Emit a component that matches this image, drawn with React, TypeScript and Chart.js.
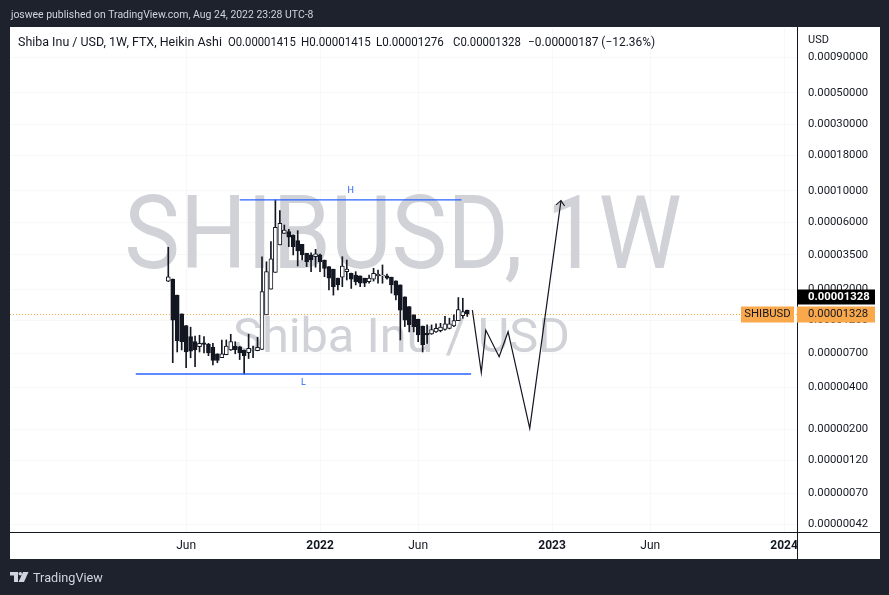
import React, { useEffect, useRef } from 'react';
import { Chart, registerables } from 'chart.js';

Chart.register(...registerables);

// ---------- data (prices in micro-USD, i.e. x 1e-6) ----------
const UNIT = 1e-6;
const CANDLE_START = '2021-05-10'; // first weekly Heikin Ashi bar
const HA_OPEN = [22.8, 23.6, 18.1, 13.3, 11.0, 9.16, 8.43, 7.76, 8.29, 8.07, 7.68, 6.91, 6.48, 6.80, 7.36, 7.85, 7.76, 7.36, 7.05, 7.34, 7.26, 7.44, 13.1, 20.0, 26.3, 41.2, 49.9, 51.3, 48.6, 44.3, 41.7, 36.0, 35.0, 34.0, 35.0, 32.2, 28.9, 27.7, 23.9, 24.3, 26.6, 25.9, 25.2, 24.8, 23.9, 22.6, 23.5, 24.8, 24.8, 24.8, 24.3, 22.9, 21.4, 17.6, 15.0, 13.1, 12.2, 10.9, 9.68, 9.57, 9.9, 10.1, 10.3, 10.5, 10.9, 11.9, 12.9, 14.15];
const HA_HIGH = [39.7, 23.6, 18.1, 13.3, 11.0, 10.7, 9.26, 9.37, 9.16, 8.2, 8.21, 6.91, 8.67, 8.67, 9.52, 8.43, 7.8, 7.36, 9.52, 7.85, 9.07, 34.0, 31.3, 43.5, 86.3, 72.4, 57.2, 53.3, 48.6, 52.1, 41.7, 36.0, 36.3, 38.4, 35.5, 32.2, 28.9, 27.7, 23.9, 34.0, 32.2, 26.0, 26.6, 24.8, 23.9, 25.2, 28.1, 27.3, 29.7, 25.6, 24.3, 22.9, 21.4, 17.6, 15.0, 13.1, 12.2, 10.9, 11.1, 11.1, 11.3, 11.4, 12.8, 12.4, 13.1, 17.4, 17.2, 14.15];
const HA_LOW = [22.6, 5.97, 7.12, 7.36, 5.5, 6.48, 5.59, 7.12, 7.0, 6.7, 5.75, 5.97, 6.48, 6.80, 7.3, 6.91, 6.29, 4.96, 6.39, 6.48, 7.26, 7.44, 13.1, 20.0, 26.3, 41.2, 49.9, 40.1, 35.0, 29.2, 32.2, 28.9, 26.6, 28.6, 26.6, 24.5, 19.7, 18.1, 19.7, 20.8, 23.2, 20.2, 21.4, 20.8, 20.8, 22.0, 22.8, 22.0, 22.0, 23.5, 18.7, 16.7, 8.67, 10.8, 9.9, 9.9, 8.43, 7.12, 8.21, 9.5, 9.8, 9.9, 10.2, 10.4, 10.8, 11.9, 12.4, 12.76];
const HA_CLOSE = [24.4, 12.0, 8.56, 8.43, 7.12, 7.21, 7.36, 8.21, 8.07, 7.0, 6.19, 6.19, 6.91, 7.85, 8.43, 7.40, 7.0, 6.70, 7.55, 7.38, 7.68, 19.2, 26.6, 32.8, 55.1, 58.9, 52.7, 46.8, 40.1, 37.4, 35.0, 31.3, 32.2, 35.6, 31.3, 28.1, 23.9, 20.8, 21.4, 29.2, 27.7, 23.5, 22.6, 22.0, 22.0, 23.9, 25.9, 25.6, 25.2, 23.9, 21.4, 18.1, 14.15, 12.0, 11.1, 10.8, 9.41, 7.98, 9.41, 10.3, 10.5, 10.7, 11.3, 11.3, 11.9, 14.3, 13.8, 13.28];

// drawn projection path
const PROJ_DATES = ['2022-08-30', '2022-09-13', '2022-09-20', '2022-10-11', '2022-10-25', '2022-11-28', '2023-01-16'];
const PROJ_VALUES = [14.15, 5.07, 10.2, 6.59, 9.93, 2.03, 85.3];

// horizontal levels
const H_DATES = ['2021-08-30', '2022-08-13'];
const H_VALUE = 86.3;
const L_DATES = ['2021-03-20', '2022-08-28'];
const L_VALUE = 4.96;

// axes
const X_TICK_DATES = ['2021-06-07', '2022-01-03', '2022-06-06', '2023-01-02', '2023-06-05', '2024-01-01'];
const X_TICK_LABELS = ['Jun', '2022', 'Jun', '2023', 'Jun', '2024'];
const Y_TICKS = [0.0009, 0.0005, 0.0003, 0.00018, 0.0001, 0.00006, 0.000035, 0.00002, 0.000012, 0.000007, 0.000004, 0.000002, 0.0000012, 0.0000007, 0.00000042];
const X_MIN_DAY = -119.3;
const X_MAX_DAY = 1116.8;
const Y_MIN = 3.71e-7;
const Y_MAX = 1.451e-3;

const TITLE = 'joswee published on TradingView.com, Aug 24, 2022 23:28 UTC-8';
const HEADER_SEGMENTS = [
  'Shiba Inu / USD, 1W, FTX, Heikin Ashi',
  'O0.00001415',
  'H0.00001415',
  'L0.00001276',
  'C0.00001328',
  '\u22120.00000187 (\u221212.36%)',
];
const WATERMARK_1 = 'SHIBUSD, 1W';
const WATERMARK_2 = 'Shiba Inu / USD';

// ---------- helpers ----------
const EPOCH = Date.UTC(2021, 0, 1);
const dayOf = (iso: string) => (Date.parse(iso + 'T00:00:00Z') - EPOCH) / 86400000;
const candleDay = (i: number) => dayOf(CANDLE_START) + 7 * i;

const FONT = 'Roboto, "Liberation Sans", sans-serif';
const DARK = '#131722';
const BG = '#1e222d';
const BLUE = '#2962ff';
const ORANGE = '#f9a84b';
const GRID = 'rgba(42,46,57,0.03)';

function fitText(
  ctx: CanvasRenderingContext2D,
  text: string,
  left: number,
  width: number,
  baseline: number,
  size: number,
  color: string,
  weight = 'normal'
) {
  ctx.save();
  ctx.font = `${weight} ${size}px ${FONT}`;
  ctx.textAlign = 'left';
  ctx.textBaseline = 'alphabetic';
  const m = ctx.measureText(text);
  const ink = m.actualBoundingBoxLeft + m.actualBoundingBoxRight;
  const sx = width / ink;
  ctx.translate(left, baseline);
  ctx.scale(sx, 1);
  ctx.fillStyle = color;
  ctx.fillText(text, m.actualBoundingBoxLeft, 0);
  ctx.restore();
}

function capFitText(
  ctx: CanvasRenderingContext2D,
  text: string,
  left: number,
  right: number,
  capTop: number,
  baseline: number,
  color: string
) {
  ctx.save();
  ctx.font = `normal 100px ${FONT}`;
  const cap = ctx.measureText('H').actualBoundingBoxAscent;
  ctx.restore();
  const size = ((baseline - capTop) / cap) * 100;
  fitText(ctx, text, left, right - left, baseline, size, color);
}

const framePlugin = {
  id: 'tvFrame',
  beforeDraw(chart: any) {
    const ctx: CanvasRenderingContext2D = chart.ctx;
    ctx.save();
    ctx.fillStyle = BG;
    ctx.fillRect(0, 0, chart.width, chart.height);
    ctx.fillStyle = '#ffffff';
    ctx.fillRect(10, 27, 870, 532);
    ctx.restore();
    fitText(ctx, TITLE, 10, 303, 18, 11.5, '#d1d4dc');
  },
  beforeDatasetsDraw(chart: any) {
    const ctx: CanvasRenderingContext2D = chart.ctx;
    const a = chart.chartArea;
    ctx.save();
    ctx.beginPath();
    ctx.rect(a.left, a.top, a.right - a.left, a.bottom - a.top);
    ctx.clip();
    capFitText(ctx, WATERMARK_1, 128, 680, 195, 268, '#d0d2d7');
    capFitText(ctx, WATERMARK_2, 234, 568, 318, 352, '#d0d2d7');
    // last price dotted line
    const yS = chart.scales.y;
    const py = Math.round(yS.getPixelForValue(HA_CLOSE[HA_CLOSE.length - 1] * UNIT)) + 0.5;
    ctx.strokeStyle = ORANGE;
    ctx.lineWidth = 1;
    ctx.setLineDash([1, 2]);
    ctx.beginPath();
    ctx.moveTo(a.left, py);
    ctx.lineTo(a.right, py);
    ctx.stroke();
    ctx.restore();
  },
  afterDraw(chart: any) {
    const ctx: CanvasRenderingContext2D = chart.ctx;
    const a = chart.chartArea;
    const xS = chart.scales.x;
    const yS = chart.scales.y;

    // axis separators
    ctx.save();
    ctx.strokeStyle = DARK;
    ctx.lineWidth = 1;
    ctx.beginPath();
    ctx.moveTo(10, Math.round(a.bottom) + 0.5);
    ctx.lineTo(880, Math.round(a.bottom) + 0.5);
    ctx.moveTo(Math.round(a.right) - 0.5, 27);
    ctx.lineTo(Math.round(a.right) - 0.5, 559);
    ctx.stroke();
    ctx.restore();

    // header legend
    const segLeft = [18, 228, 301, 376, 453, 528];
    const segWidth = [204, 68, 70, 68, 68, 127];
    HEADER_SEGMENTS.forEach((s, i) => fitText(ctx, s, segLeft[i], segWidth[i], 46, 12, DARK));

    // USD unit
    ctx.save();
    ctx.font = `11px ${FONT}`;
    ctx.fillStyle = DARK;
    ctx.textBaseline = 'middle';
    ctx.fillText('USD', 808, 40);
    ctx.restore();

    // H / L labels
    ctx.save();
    ctx.font = `9px ${FONT}`;
    ctx.fillStyle = BLUE;
    ctx.textAlign = 'center';
    ctx.textBaseline = 'middle';
    const hx = (xS.getPixelForValue(dayOf(H_DATES[0])) + xS.getPixelForValue(dayOf(H_DATES[1]))) / 2;
    const hy = yS.getPixelForValue(H_VALUE * UNIT);
    ctx.fillText('H', hx, hy - 9);
    const lx = (xS.getPixelForValue(dayOf(L_DATES[0])) + xS.getPixelForValue(dayOf(L_DATES[1]))) / 2;
    const ly = yS.getPixelForValue(L_VALUE * UNIT);
    ctx.fillText('L', lx, ly + 9);
    ctx.restore();

    // arrow head on projection
    const n = PROJ_DATES.length;
    const x1 = xS.getPixelForValue(dayOf(PROJ_DATES[n - 1]));
    const y1 = yS.getPixelForValue(PROJ_VALUES[n - 1] * UNIT);
    const x0 = xS.getPixelForValue(dayOf(PROJ_DATES[n - 2]));
    const y0 = yS.getPixelForValue(PROJ_VALUES[n - 2] * UNIT);
    const ang = Math.atan2(y1 - y0, x1 - x0);
    const len = 6.5;
    const spread = (42 * Math.PI) / 180;
    ctx.save();
    ctx.strokeStyle = DARK;
    ctx.lineWidth = 1.1;
    ctx.beginPath();
    ctx.moveTo(x1 - len * Math.cos(ang - spread), y1 - len * Math.sin(ang - spread));
    ctx.lineTo(x1, y1);
    ctx.lineTo(x1 - len * Math.cos(ang + spread), y1 - len * Math.sin(ang + spread));
    ctx.stroke();
    ctx.restore();

    // price labels
    const last = HA_CLOSE[HA_CLOSE.length - 1] * UNIT;
    const py = yS.getPixelForValue(last);
    const label = last.toFixed(8);
    ctx.save();
    ctx.fillStyle = ORANGE;
    ctx.fillRect(797, py - 7.5, 78, 16);
    ctx.fillRect(741, py - 7.5, 53, 16);
    ctx.fillStyle = '#000000';
    ctx.fillRect(797, py - 24.5, 78, 15);
    ctx.font = `11.3px ${FONT}`;
    ctx.textBaseline = 'middle';
    ctx.fillStyle = DARK;
    ctx.fillText(label, 808, py + 0.5);
    ctx.textAlign = 'center';
    ctx.fillText('SHIBUSD', 767.5, py + 0.5);
    ctx.textAlign = 'left';
    ctx.font = `bold 11.3px ${FONT}`;
    ctx.fillStyle = '#ffffff';
    ctx.fillText(label, 808, py - 17);
    ctx.restore();

    // footer logo
    ctx.save();
    ctx.fillStyle = '#d1d4dc';
    ctx.fillRect(10, 572, 8, 3.5);
    ctx.fillRect(14, 572, 4, 10);
    ctx.beginPath();
    ctx.arc(20.3, 573.8, 1.8, 0, Math.PI * 2);
    ctx.fill();
    ctx.beginPath();
    ctx.moveTo(23, 572);
    ctx.lineTo(28.5, 572);
    ctx.lineTo(24, 582);
    ctx.lineTo(18.5, 582);
    ctx.closePath();
    ctx.fill();
    ctx.restore();
    fitText(ctx, 'TradingView', 33, 70, 582, 13, '#d1d4dc');
  },
};

export default function App() {
  const ref = useRef<HTMLCanvasElement | null>(null);

  useEffect(() => {
    document.body.style.margin = '0';
    const canvas = ref.current;
    if (!canvas) return;

    const wickData = HA_OPEN.map((_, i) => ({ x: candleDay(i), y: [HA_LOW[i] * UNIT, HA_HIGH[i] * UNIT] }));
    const bodyData = HA_OPEN.map((o, i) => ({ x: candleDay(i), y: [o * UNIT, HA_CLOSE[i] * UNIT] }));
    const bodyColors = HA_OPEN.map((o, i) => (HA_CLOSE[i] >= o ? '#ffffff' : DARK));
    const projData = PROJ_DATES.map((d, i) => ({ x: dayOf(d), y: PROJ_VALUES[i] * UNIT }));
    const hData = H_DATES.map((d) => ({ x: dayOf(d), y: H_VALUE * UNIT }));
    const lData = L_DATES.map((d) => ({ x: dayOf(d), y: L_VALUE * UNIT }));
    const xTickDays = X_TICK_DATES.map(dayOf);

    const chart = new Chart(canvas, {
      type: 'bar',
      data: {
        datasets: [
          {
            type: 'bar',
            label: 'wick',
            data: wickData as any,
            backgroundColor: DARK,
            barThickness: 1,
            grouped: false,
            order: 4,
          } as any,
          {
            type: 'bar',
            label: 'body',
            data: bodyData as any,
            backgroundColor: bodyColors,
            borderColor: DARK,
            borderWidth: 1,
            borderSkipped: false,
            barThickness: 4,
            grouped: false,
            order: 3,
          } as any,
          {
            type: 'line',
            label: 'H',
            data: hData,
            borderColor: BLUE,
            borderWidth: 1.3,
            pointRadius: 0,
            order: 2,
          } as any,
          {
            type: 'line',
            label: 'L',
            data: lData,
            borderColor: BLUE,
            borderWidth: 1.3,
            pointRadius: 0,
            order: 2,
          } as any,
          {
            type: 'line',
            label: 'projection',
            data: projData,
            borderColor: DARK,
            borderWidth: 1.2,
            pointRadius: 0,
            tension: 0,
            order: 1,
          } as any,
        ],
      },
      options: {
        responsive: false,
        animation: false,
        events: [],
        layout: { padding: { left: 10, top: 28, right: 9, bottom: 36 } },
        plugins: { legend: { display: false }, tooltip: { enabled: false } },
        scales: {
          x: {
            type: 'linear',
            min: X_MIN_DAY,
            max: X_MAX_DAY,
            offset: false,
            grid: { color: GRID, drawTicks: false, offset: false },
            border: { display: false },
            ticks: {
              autoSkip: false,
              maxRotation: 0,
              padding: 7,
              color: DARK,
              font: (c: any) => ({
                family: FONT,
                size: 12,
                weight: /^\d{4}$/.test(String(c.tick?.label ?? '')) ? 'bold' : 'normal',
              }),
              callback: (_v: any, i: number) => X_TICK_LABELS[i],
            },
            afterBuildTicks: (s: any) => {
              s.ticks = xTickDays.map((v) => ({ value: v }));
            },
            afterFit: (s: any) => {
              s.height = 27;
            },
          },
          y: {
            type: 'logarithmic',
            position: 'right',
            min: Y_MIN,
            max: Y_MAX,
            grid: { color: GRID, drawTicks: false },
            border: { display: false },
            ticks: {
              padding: 10,
              color: DARK,
              font: { family: FONT, size: 11.3 },
              callback: (v: any) => Number(v).toFixed(8),
            },
            afterBuildTicks: (s: any) => {
              s.ticks = Y_TICKS.map((v) => ({ value: v }));
            },
            afterFit: (s: any) => {
              s.width = 82;
            },
          },
        },
      } as any,
      plugins: [framePlugin],
    });

    return () => chart.destroy();
  }, []);

  return (
    <div style={{ position: 'fixed', left: 0, top: 0, width: 889, height: 595, background: BG }}>
      <canvas ref={ref} width={889} height={595} style={{ display: 'block', width: 889, height: 595 }} />
    </div>
  );
}
